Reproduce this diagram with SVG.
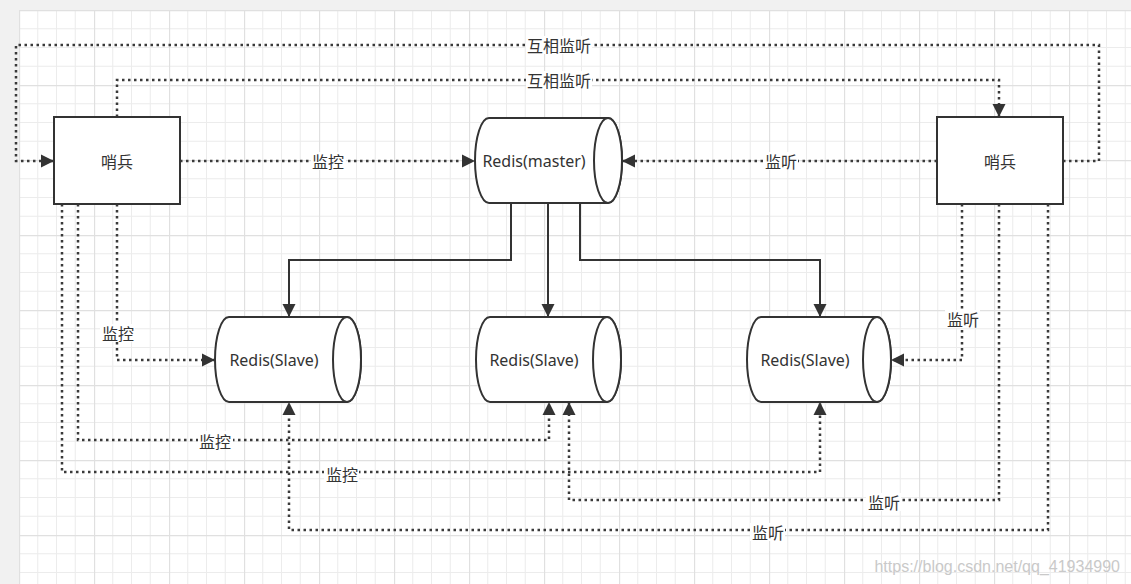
<svg xmlns="http://www.w3.org/2000/svg" width="1131" height="584" viewBox="0 0 1131 584">
<style>
.box{fill:#fff;stroke:#333;stroke-width:2}
.cyl{fill:#fff;stroke:#333;stroke-width:2}
.txt{font-family:"Noto Sans","Noto Sans CJK SC",sans-serif;font-size:16px;fill:#333;text-anchor:middle;dominant-baseline:central}
.lbl{font-family:"Noto Sans CJK SC","Noto Sans",sans-serif;font-size:16px;fill:#333;text-anchor:middle;dominant-baseline:central}
.lb{fill:#fff}
.dot{fill:none;stroke:#3a3a3a;stroke-width:2.5;stroke-dasharray:2.5 3.5}
.sol{fill:none;stroke:#333;stroke-width:2}
.ma{marker-end:url(#arr)}
</style>
<defs>
<marker id="arr" markerUnits="userSpaceOnUse" markerWidth="14" markerHeight="14" refX="13" refY="7" orient="auto" viewBox="0 0 14 14">
<path d="M0,0.5 L13,7 L0,13.5 Z" fill="#333"/>
</marker>
<pattern id="grid" patternUnits="userSpaceOnUse" x="19" y="10" width="75" height="75">
<rect width="75" height="75" fill="#fff"/>
<path d="M18.75,0V75M37.5,0V75M56.25,0V75M0,18.75H75M0,37.5H75M0,56.25H75" stroke="#ececec" stroke-width="1"/>
<path d="M0.5,0V75M0,0.5H75" stroke="#e0e0e0" stroke-width="1.3"/>
</pattern>
</defs>
<rect width="1131" height="584" fill="#f1f1f1"/>
<rect x="19" y="10" width="1112" height="574" fill="url(#grid)"/>

<g id="connectors">
<!-- solid master to slaves -->
<path class="sol ma" d="M511,203 V260 H289 V317"/>
<path class="sol ma" d="M548,203 V317"/>
<path class="sol ma" d="M580,203 V260 H820 V317"/>
<!-- mutual listen outer -->
<path class="dot ma" d="M1063,161 H1099 V45 H16 V161 H54"/>
<!-- mutual listen inner -->
<path class="dot ma" d="M117,117 V80 H999 V117"/>
<!-- sentinel to master -->
<path class="dot ma" d="M180,161 H475"/>
<path class="dot ma" d="M937,161 H622"/>
<!-- left sentinel to slaves -->
<path class="dot ma" d="M117,204 V360 H215"/>
<path class="dot ma" d="M78,204 V440 H549 V402"/>
<path class="dot ma" d="M62,204 V472 H820 V402"/>
<!-- right sentinel to slaves -->
<path class="dot ma" d="M962,204 V360 H891"/>
<path class="dot ma" d="M999,204 V500 H569 V402"/>
<path class="dot ma" d="M1048,204 V530 H289 V402"/>
<!-- labels -->
<rect class="lb" x="526" y="36" width="66" height="18"/>
<text class="lbl" x="559" y="45">互相监听</text>
<rect class="lb" x="526" y="71" width="66" height="18"/>
<text class="lbl" x="559" y="80">互相监听</text>
<rect class="lb" x="311" y="152" width="35" height="18"/>
<text class="lbl" x="328" y="161">监控</text>
<rect class="lb" x="763" y="152" width="35" height="18"/>
<text class="lbl" x="781" y="161">监听</text>
<rect class="lb" x="100" y="324" width="35" height="18"/>
<text class="lbl" x="118" y="333">监控</text>
<rect class="lb" x="198" y="431" width="35" height="18"/>
<text class="lbl" x="215" y="441">监控</text>
<rect class="lb" x="324" y="464" width="35" height="18"/>
<text class="lbl" x="342" y="474">监控</text>
<rect class="lb" x="866" y="493" width="35" height="18"/>
<text class="lbl" x="884" y="502">监听</text>
<rect class="lb" x="750" y="523" width="35" height="18"/>
<text class="lbl" x="768" y="532">监听</text>
<rect class="lb" x="945" y="310" width="35" height="18"/>
<text class="lbl" x="963" y="319">监听</text>
</g>

<g id="sentinel-left">
<rect class="box" x="54" y="117" width="126" height="87"/>
<text class="lbl" x="117" y="161">哨兵</text>
</g>
<g id="sentinel-right">
<rect class="box" x="937" y="117" width="126" height="87"/>
<text class="lbl" x="1000" y="161">哨兵</text>
</g>
<g id="master">
<path class="cyl" d="M489,118 H608 A14,42.5 0 0 1 608,203 H489 A14,42.5 0 0 1 489,118 Z"/>
<ellipse class="cyl" cx="608" cy="160.5" rx="14" ry="42.5" fill="none"/>
<text class="txt" x="534" y="161">Redis(master)</text>
</g>
<g id="slave1">
<path class="cyl" d="M229,317 H347 A14,42.5 0 0 1 347,402 H229 A14,42.5 0 0 1 229,317 Z"/>
<ellipse class="cyl" cx="347" cy="359.5" rx="14" ry="42.5" fill="none"/>
<text class="txt" x="274" y="360">Redis(Slave)</text>
</g>
<g id="slave2">
<path class="cyl" d="M490,317 H607 A14,42.5 0 0 1 607,402 H490 A14,42.5 0 0 1 490,317 Z"/>
<ellipse class="cyl" cx="607" cy="359.5" rx="14" ry="42.5" fill="none"/>
<text class="txt" x="534" y="360">Redis(Slave)</text>
</g>
<g id="slave3">
<path class="cyl" d="M761,317 H877 A14,42.5 0 0 1 877,402 H761 A14,42.5 0 0 1 761,317 Z"/>
<ellipse class="cyl" cx="877" cy="359.5" rx="14" ry="42.5" fill="none"/>
<text class="txt" x="805" y="360">Redis(Slave)</text>
</g>
<text x="1120" y="566" font-family="Liberation Sans, Arial, sans-serif" font-size="16" fill="#c9c9c9" text-anchor="end" dominant-baseline="central">https://blog.csdn.net/qq_41934990</text>
</svg>
